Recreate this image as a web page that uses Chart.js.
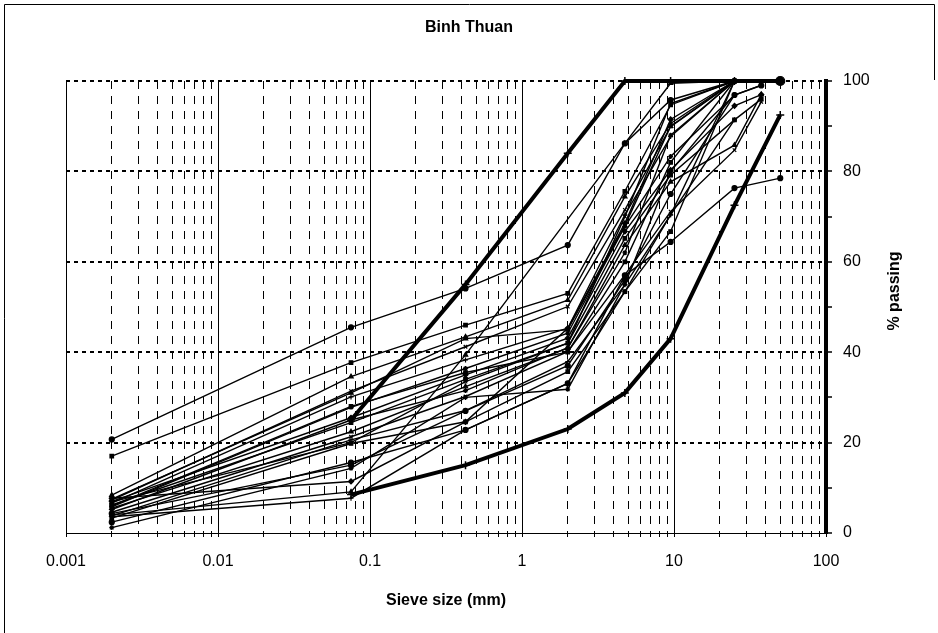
<!DOCTYPE html>
<html>
<head>
<meta charset="utf-8">
<script src="https://cdn.jsdelivr.net/npm/chart.js@4/dist/chart.umd.min.js"></script>
<style>
  html, body { margin: 0; padding: 0; background: #fff; }
  #wrap { width: 938px; height: 633px; }
</style>
</head>
<body>
<div id="wrap"><canvas id="grading" width="938" height="633"></canvas></div>
<script>
// Sieve openings (mm)
const sieveSizes = [0.002, 0.075, 0.425, 2, 4.75, 9.5, 25, 37.5, 50];

// Percent passing for each tested sample (null = sieve not used)
const s01 = [20.7, 45.5, 54.1, 63.7, 86.2, 95.8, 100, null, 100];
const s02 = [17.0, 37.7, 46.0, 53.0, 75.6, 94.7, 100, null, null];
const s03 = [8.4, 34.6, 43.4, 51.5, 74.4, 90.6, 100, null, null];
const s04 = [7.3, 31.4, 41.2, 50.1, 71.5, 89.9, 99.9, null, null];
const s05 = [6.6, 30.1, 38.3, 45.3, 70.4, 87.7, 100, null, null];
const s06 = [5.8, 27.8, 36.4, 44.2, 67.8, 83.3, 96.9, 99.1, null];
const s07 = [7.0, 25.5, 35.0, 43.1, 66.7, 80.3, 94.5, 97.0, null];
const s08 = [6.2, 24.4, 34.0, 42.0, 65.2, 79.2, 91.4, 96.0, null];
const s09 = [5.5, 22.4, 32.4, 40.9, 63.7, 77.7, 85.8, 97.0, null];
const s10 = [4.6, 21.3, 30.2, 40.1, 57.1, 71.1, 84.7, 95.4, null];
const s11 = [3.8, 20.6, 27.1, 37.9, 54.9, 70.4, 100, null, null];
const s12 = [3.3, 19.8, 24.6, 35.7, 53.4, 66.7, 100, null, null];
const s13 = [2.4, 15.6, 22.8, 33.1, 57.0, 64.4, 76.3, null, 78.5];
const s14 = [1.2, 14.3, 30.0, 31.8, 55.0, 80.0, 97.0, null, null];
const s15 = [4.0, 9.1, 39.4, null, 86.2, 99.5, 100, null, null];
const s16 = [7.7, 11.4, 24.6, 45.3, 68.5, 91.5, 100, null, null];
const s17 = [6.9, 20.0, 33.5, 42.0, 70.0, 95.0, 100, null, null];
const s18 = [3.6, 7.7, 22.8, 33.1, 53.4, 70.4, 91.4, null, null];
const s19 = [6.0, 28.0, 35.5, 40.0, 60.0, 82.0, 100, null, null];
const s20 = [7.5, 31.0, 43.0, 45.0, 68.0, 90.0, 100, null, null];
const s21 = [5.2, 25.0, 31.5, 41.0, 62.0, 88.0, 100, null, null];
const s22 = [4.3, 15.0, 27.0, 37.0, 56.0, 75.0, 96.9, 99.0, null];

// Specification envelope
const upperLimit = [null, 25, 55, 84, 100, 100, 100, null, 100];
const lowerLimit = [null, 8.5, 15, 23, 31, 43, 72.5, null, 92.5];

// Axis labels
const xTickLabels = ['0.001', '0.01', '0.1', '1', '10', '100'];
const yTickLabels = [0, 20, 40, 60, 80, 100];

const samples = [s01, s02, s03, s04, s05, s06, s07, s08, s09, s10, s11,
                 s12, s13, s14, s15, s16, s17, s18, s19, s20, s21, s22];
const markerStyles = ['circle', 'rect', 'triangle', 'crossRot', 'cross', 'star', 'rectRot', 'rect',
                      'triangle', 'crossRot', 'cross', 'rect', 'circle', 'star', 'triangle', 'rectRot',
                      'crossRot', 'cross', 'rect', 'triangle', 'star', 'circle'];

const FONT = "'Liberation Sans', Arial, Helvetica, sans-serif";

function toPoints(values) {
  const pts = [];
  values.forEach((v, i) => { if (v !== null) pts.push({ x: sieveSizes[i], y: v }); });
  return pts;
}

const datasets = samples.map((vals, i) => {
  const pts = toPoints(vals);
  return {
    label: 'Sample ' + (i + 1),
    data: pts,
    borderColor: '#000',
    backgroundColor: '#000',
    borderWidth: 1.4,
    pointStyle: markerStyles[i],
    pointRadius: pts.map(p => (i === 0 && p.x === 50) ? 4.5 : 2.5),
    pointBorderWidth: 1.2,
    pointBorderColor: '#000',
    pointBackgroundColor: '#000',
    tension: 0,
    clip: 8,
    order: 2
  };
});

[upperLimit, lowerLimit].forEach((vals, i) => {
  datasets.push({
    label: i === 0 ? 'Upper limit' : 'Lower limit',
    data: toPoints(vals),
    borderColor: '#000',
    backgroundColor: '#000',
    borderWidth: 4,
    pointStyle: 'cross',
    pointRadius: 4,
    pointBorderWidth: 1.5,
    tension: 0,
    clip: 8,
    order: 1
  });
});

function isDecade(v) {
  const e = Math.log10(v);
  return Math.abs(e - Math.round(e)) < 1e-9;
}

const pageDecor = {
  id: 'pageDecor',
  beforeDraw(chart) {
    const c = chart.ctx;
    c.save();
    c.fillStyle = '#fff';
    c.fillRect(0, 0, chart.width, chart.height);
    c.strokeStyle = '#000';
    c.lineWidth = 1;
    c.beginPath();
    c.moveTo(4.5, chart.height);
    c.lineTo(4.5, 4.5);
    c.lineTo(934.5, 4.5);
    c.lineTo(934.5, 80);
    c.stroke();
    c.restore();
  },
  afterDraw(chart) {
    const c = chart.ctx;
    const ys = chart.scales.y;
    c.save();
    c.translate(ys.left + 69, 291);
    c.rotate(-Math.PI / 2);
    c.fillStyle = '#000';
    c.font = 'bold 16px ' + FONT;
    c.textAlign = 'center';
    c.textBaseline = 'middle';
    c.fillText('% passing', 0, 0);
    c.restore();
  }
};

new Chart(document.getElementById('grading'), {
  type: 'line',
  data: { datasets },
  plugins: [pageDecor],
  options: {
    responsive: false,
    animation: false,
    devicePixelRatio: 1,
    layout: { padding: 0 },
    plugins: {
      legend: { display: false },
      tooltip: { enabled: false },
      title: {
        display: true,
        text: 'Binh Thuan',
        color: '#000',
        font: { family: FONT, size: 16, weight: 'bold', lineHeight: 1.2 },
        padding: { top: 18, bottom: 43.8 }
      }
    },
    scales: {
      // empty spacer on the left so the plot starts at the same place as the frame margin
      spacer: {
        type: 'linear',
        position: 'left',
        display: true,
        afterFit(scale) { scale.width = 66; },
        ticks: { display: false },
        grid: { display: false, drawTicks: false },
        border: { display: false }
      },
      x: {
        type: 'logarithmic',
        position: 'bottom',
        min: 0.001,
        max: 100,
        afterBuildTicks(scale) {
          const t = [];
          for (let e = -3; e <= 2; e++) {
            for (let k = 1; k <= 9; k++) {
              const v = +(k * Math.pow(10, e)).toPrecision(6);
              t.push({ value: v });
              if (e === 2) break;
            }
          }
          scale.ticks = t;
        },
        afterFit(scale) { scale.height = 100; },
        ticks: {
          autoSkip: false,
          maxRotation: 0,
          minRotation: 0,
          padding: 15,
          color: '#000',
          font: { family: FONT, size: 16 },
          callback(value) {
            if (!isDecade(value)) return '';
            return xTickLabels[Math.round(Math.log10(value)) + 3];
          }
        },
        grid: {
          color: '#000',
          lineWidth: 1,
          drawTicks: true,
          tickLength: 4,
          tickColor: '#000',
          tickWidth: 1
        },
        border: {
          display: true,
          color: '#000',
          width: 1,
          dash(ctx) {
            if (!ctx.tick) return [];
            return isDecade(ctx.tick.value) ? [] : [8, 7];
          }
        },
        title: {
          display: true,
          text: 'Sieve size (mm)',
          color: '#000',
          font: { family: FONT, size: 16, weight: 'bold', lineHeight: 1.2 },
          padding: { top: 0, bottom: 23 }
        }
      },
      y: {
        type: 'linear',
        position: 'right',
        min: 0,
        max: 100,
        afterFit(scale) { scale.width = 112; },
        ticks: {
          stepSize: 10,
          padding: 11,
          color: '#000',
          font: { family: FONT, size: 16 },
          callback(value) { return yTickLabels.includes(value) ? String(value) : ''; }
        },
        grid: {
          color(ctx) {
            const v = ctx.tick ? ctx.tick.value : 0;
            return (v > 0 && yTickLabels.includes(v)) ? '#000' : 'rgba(0,0,0,0)';
          },
          lineWidth: 2,
          drawTicks: true,
          tickLength: 6,
          tickColor: '#000',
          tickWidth: 1.5
        },
        border: {
          display: true,
          color: '#000',
          width: 4,
          dash: [4, 4]
        }
      }
    }
  }
});
</script>
</body>
</html>
